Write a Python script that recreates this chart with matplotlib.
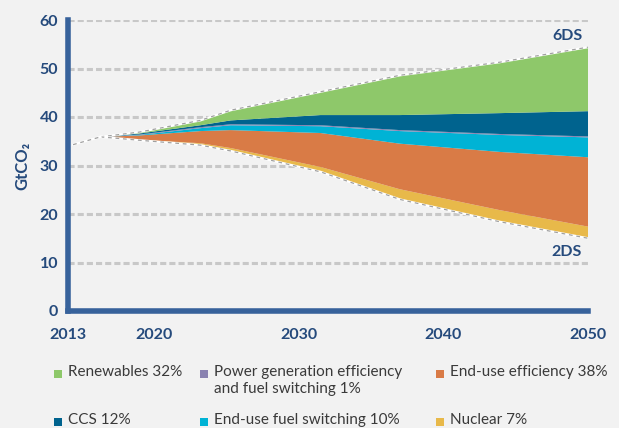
import numpy as np
import matplotlib.pyplot as plt
from matplotlib.patches import Rectangle

plt.rcParams['font.family'] = ['Lato', 'DejaVu Sans']

# years along the fan (2DS vs 6DS wedge), GtCO2
years = [2016.3, 2019.0, 2023.2, 2025.3, 2031.5, 2037.0, 2043.9, 2050.0]
two_ds = [35.9, 35.2, 34.2, 33.0, 28.7, 23.0, 18.4, 15.0]
nuclear = [0, 0.1, 0.4, 0.6, 1.0, 2.1, 2.4, 2.4]
enduse_eff = [0, 0.9, 2.5, 3.7, 7.0, 9.4, 12.0, 14.3]
enduse_fuel = [0, 0.1, 0.6, 1.0, 1.4, 2.6, 3.5, 4.1]
power_gen = [0, 0.1, 0.2, 0.2, 0.2, 0.2, 0.2, 0.2]
ccs = [0, 0.2, 0.4, 0.8, 2.1, 3.1, 4.3, 5.2]
renewables = [0, 0.3, 1.0, 2.1, 4.8, 8.2, 10.5, 13.2]

hist_years = [2014.4, 2016.3]
hist_vals = [34.3, 35.9]

xtick_labels = ['2013', '2020', '2030', '2040', '2050']
ytick_vals = [0, 10, 20, 30, 40, 50, 60]

legend_labels = ['Renewables 32%', 'Power generation efficiency\nand fuel switching 1%',
                 'End-use efficiency 38%', 'CCS 12%', 'End-use fuel switching 10%', 'Nuclear 7%']

bg = '#f2f2f2'
navy = '#254a7c'
spine_col = '#37629b'
c_green = '#8ec86a'
c_ccs = '#00638e'
c_purple = '#8a82b0'
c_cyan = '#00b3d5'
c_orange = '#d97b46'
c_yellow = '#e8b94a'

fig = plt.figure(figsize=(6.19, 4.28), dpi=100, facecolor=bg)
ax = fig.add_axes([68/619, 1-311/428, 520/619, 291/428])
ax.set_facecolor(bg)

ax.stackplot(years, two_ds, nuclear, enduse_eff, enduse_fuel, power_gen, ccs, renewables,
             colors=['none', c_yellow, c_orange, c_cyan, c_purple, c_ccs, c_green],
             linewidth=0, zorder=2)

top = np.sum([two_ds, nuclear, enduse_eff, enduse_fuel, power_gen, ccs, renewables], axis=0)
for line in [top, two_ds]:
    ax.plot(years, line, color='white', lw=1.6, zorder=3)
    ax.plot(years, line, color='#a0a0a0', lw=0.9, ls=(0, (3, 3)), zorder=3)
ax.plot(hist_years, hist_vals, color='white', lw=1.6, zorder=3)
ax.plot(hist_years, hist_vals, color='#a0a0a0', lw=0.9, ls=(0, (3, 3)), zorder=3)

ax.set_xlim(2014.05, 2050)
ax.set_ylim(0, 60)
ax.set_xticks([2014.05, 2020, 2030, 2040, 2050])
ax.set_xticklabels(xtick_labels)
ax.set_yticks(ytick_vals)
ax.tick_params(length=0, labelsize=11.5, labelcolor=navy)
ax.tick_params(axis='y', pad=7)
ax.tick_params(axis='x', pad=12)
for t in ax.get_xticklabels() + ax.get_yticklabels():
    t.set_fontweight('bold')

ax.yaxis.grid(True, color='#c8c8c8', lw=2.2, ls=(0, (2, 1)))
ax.set_axisbelow(True)

for s in ['top', 'right']:
    ax.spines[s].set_visible(False)
for s in ['left', 'bottom']:
    ax.spines[s].set_color(spine_col)
    ax.spines[s].set_linewidth(4)
    ax.spines[s].set_zorder(4)

ax.set_ylabel('GtCO₂', fontsize=12, fontweight='bold', color=navy, labelpad=7)

ax.text(2049.6, 56.6, '6DS', ha='right', va='center', fontsize=11.5, fontweight='bold', color=navy)
ax.text(2049.6, 12.2, '2DS', ha='right', va='center', fontsize=11.5, fontweight='bold', color=navy)

# legend, laid out by hand so the rows line up across columns
leg_colors = [c_green, c_purple, c_orange, c_ccs, c_cyan, c_yellow]
col_x = [54, 200, 436]
row_y = [374, 422]
for i, (lab, col) in enumerate(zip(legend_labels, leg_colors)):
    cx = col_x[i % 3]
    cy = row_y[i // 3]
    fig.add_artist(Rectangle((cx/619, 1-(cy+4)/428), 8/619, 8/428,
                             transform=fig.transFigure, color=col, lw=0))
    fig.text((cx+14)/619, 1-(cy-9)/428, lab, ha='left', va='top', fontsize=11,
             color='#3a3a3a', linespacing=1.3)

plt.savefig('out.png', dpi=100, facecolor=bg)
